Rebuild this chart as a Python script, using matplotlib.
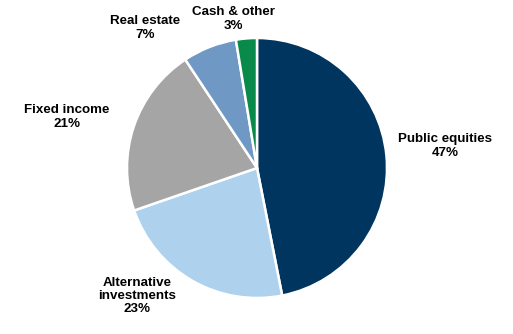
import matplotlib
matplotlib.use("Agg")
import matplotlib.pyplot as plt

# Asset allocation (percent of total)
categories = ["Public equities", "Alternative\ninvestments", "Fixed income", "Real estate", "Cash & other"]
shares = [46.9, 22.8, 21.0, 6.7, 2.6]
colors = ["#00355f", "#aed2ee", "#a5a5a5", "#6f98c4", "#0a8a4a"]

# label anchor points (figure pixel space, origin top-left)
label_xy = [(445, 146), (137, 296), (67, 117), (145, 28), (233, 19)]

W, H = 513, 334
fig = plt.figure(figsize=(W / 100, H / 100), dpi=100)
ax = fig.add_axes([0, 0, 1, 1])

cx, cy, r = 257, H - 168, 130
ax.pie(shares, colors=colors, startangle=90, counterclock=False,
       center=(cx, cy), radius=r, frame=True,
       wedgeprops=dict(edgecolor="white", linewidth=1.8))
ax.set_xlim(0, W)
ax.set_ylim(0, H)
ax.set_aspect("equal")
ax.axis("off")

for name, val, (x, y) in zip(categories, shares, label_xy):
    ax.text(x, H - y, f"{name}\n{val:.0f}%", ha="center", va="center",
            fontsize=9.6, fontweight="bold", family="Liberation Sans",
            color="black", linespacing=1.12)

fig.savefig("out.png", dpi=100)
